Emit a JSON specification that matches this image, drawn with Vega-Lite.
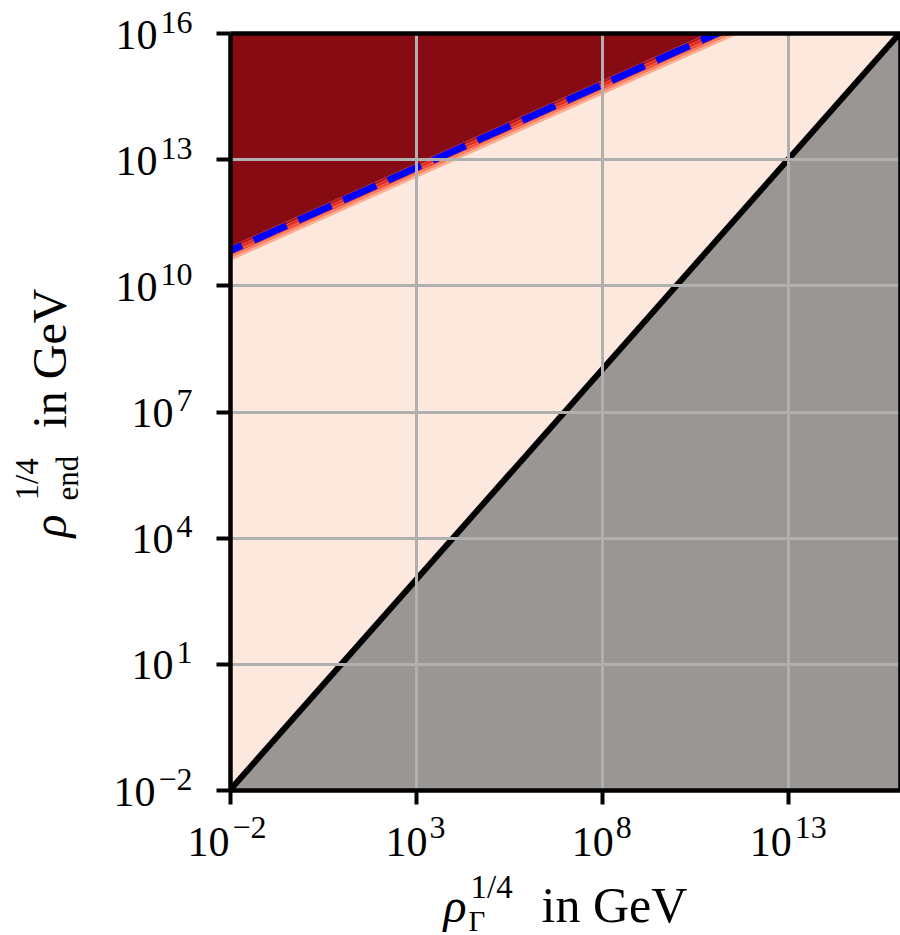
{
  "$schema": "https://vega.github.io/schema/vega-lite/v6.json",
  "width": 670,
  "height": 757,
  "autosize": "none",
  "padding": {"left": 230, "top": 33, "right": 0, "bottom": 145},
  "background": "white",
  "view": {"fill": "#fde8dd", "stroke": null},
  "config": {
    "font": "Liberation Serif",
    "view": {"fill": "#fde8dd", "stroke": null},
    "axis": {
      "labelFont": "Liberation Serif",
      "titleFont": "Liberation Serif",
      "labelColor": "black",
      "titleColor": "black",
      "titleFontWeight": "normal",
      "labelFlush": false,
      "labelOverlap": false,
      "labelBound": false
    }
  },
  "datasets": {
    "grey": [
      {"x": 0.01, "y": 0.01, "y0": 0.01},
      {"x": 1e16, "y": 1e16, "y0": 0.01}
    ],
    "dark": [
      {"x": 0.01, "lo": 8.318e10, "hi": 1e17},
      {"x": 1e12, "lo": 2.818e16, "hi": 1e17}
    ],
    "bands": [
      {"band": "b1", "x": 0.01, "lo": 7.079e10, "hi": 8.318e10},
      {"band": "b1", "x": 1e12, "lo": 2.399e16, "hi": 2.818e16},
      {"band": "b2", "x": 0.01, "lo": 5.888e10, "hi": 7.079e10},
      {"band": "b2", "x": 1e12, "lo": 1.995e16, "hi": 2.399e16},
      {"band": "b3", "x": 0.01, "lo": 5.012e10, "hi": 5.888e10},
      {"band": "b3", "x": 1e12, "lo": 1.698e16, "hi": 1.995e16},
      {"band": "b4", "x": 0.01, "lo": 4.365e10, "hi": 5.012e10},
      {"band": "b4", "x": 1e12, "lo": 1.479e16, "hi": 1.698e16},
      {"band": "b5", "x": 0.01, "lo": 3.802e10, "hi": 4.365e10},
      {"band": "b5", "x": 1e12, "lo": 1.288e16, "hi": 1.479e16}
    ],
    "blue": [
      {"x": 0.01, "y": 6.607e10},
      {"x": 1e12, "y": 2.239e16}
    ],
    "diag": [
      {"x": 0.01, "y": 0.01},
      {"x": 1e16, "y": 1e16}
    ]
  },
  "resolve": {
    "scale": {"x": "independent", "y": "independent"},
    "axis": {"x": "independent", "y": "independent"}
  },
  "layer": [
    {
      "data": {"name": "grey"},
      "mark": {"type": "area", "color": "#9a9694", "clip": true},
      "encoding": {
        "x": {
          "field": "x", "type": "quantitative",
          "scale": {"type": "log", "domain": [0.01, 1e16], "nice": false},
          "axis": {
            "orient": "bottom",
            "values": [0.01, 1000, 100000000, 10000000000000],
            "grid": true, "gridColor": "#b0b0b0", "gridWidth": 3,
            "domain": true, "domainColor": "black", "domainWidth": 4.5,
            "ticks": true, "tickColor": "black", "tickWidth": 4, "tickSize": 14,
            "labelExpr": "'10'", "labelFontSize": 42,
            "labelAlign": "center", "labelBaseline": "alphabetic", "labelPadding": 51,
            "labelOffset": {"condition": [{"test": "datum.value < 1", "value": -22}, {"test": "datum.value > 1e12", "value": -18}], "value": -10},
            "title": "in GeV", "titleFontSize": 50, "titleX": 311, "titleY": 131,
            "titleAlign": "left", "titleBaseline": "alphabetic", "titleAngle": 0,
            "zindex": 1
          }
        },
        "y": {
          "field": "y", "type": "quantitative",
          "scale": {"type": "log", "domain": [0.01, 1e16], "nice": false},
          "axis": {
            "orient": "left",
            "values": [0.01, 10, 10000, 10000000, 10000000000, 10000000000000, 10000000000000000],
            "grid": true, "gridColor": "#b0b0b0", "gridWidth": 3,
            "domain": true, "domainColor": "black", "domainWidth": 4.5,
            "ticks": true, "tickColor": "black", "tickWidth": 4, "tickSize": 14,
            "labelExpr": "'10'", "labelFontSize": 42,
            "labelAlign": "right", "labelBaseline": "middle", "labelOffset": 2,
            "labelPadding": {"condition": [{"test": "datum.value < 1", "value": 61}, {"test": "datum.value > 1e9", "value": 59}], "value": 43},
            "title": "in GeV", "titleFontSize": 48, "titleAngle": -90,
            "titleX": -165, "titleY": 395, "titleAlign": "left", "titleBaseline": "alphabetic",
            "zindex": 1
          }
        },
        "y2": {"field": "y0"}
      }
    },
    {
      "data": {"name": "dark"},
      "mark": {"type": "area", "color": "#860b13", "clip": true},
      "encoding": {
        "x": {
          "field": "x", "type": "quantitative",
          "scale": {"type": "log", "domain": [0.01, 1e16], "nice": false},
          "axis": {
            "orient": "bottom",
            "values": [0.01, 1000, 100000000, 10000000000000],
            "grid": false, "domain": false, "ticks": false,
            "labelExpr": "(datum.value < 1 ? '−' : '') + format(abs(round(log(datum.value) / LN10)), 'd')",
            "labelFontSize": 32, "labelAlign": "left", "labelBaseline": "alphabetic", "labelPadding": 47,
            "labelOffset": {"condition": [{"test": "datum.value < 1", "value": 2}, {"test": "datum.value > 1e12", "value": 6}], "value": 13},
            "title": "ρ", "titleFontSize": 48, "titleFontStyle": "italic", "titleX": 213, "titleY": 131,
            "titleAlign": "left", "titleBaseline": "alphabetic", "titleAngle": 0
          }
        },
        "y": {
          "field": "lo", "type": "quantitative", "stack": null,
          "scale": {"type": "log", "domain": [0.01, 1e16], "nice": false},
          "axis": {
            "orient": "left",
            "values": [0.01, 10, 10000, 10000000, 10000000000, 10000000000000, 10000000000000000],
            "grid": false, "domain": false, "ticks": false,
            "labelExpr": "(datum.value < 1 ? '−' : '') + format(abs(round(log(datum.value) / LN10)), 'd')",
            "labelFontSize": 32, "labelAlign": "right", "labelBaseline": "middle",
            "labelPadding": 38, "labelOffset": -11,
            "title": "ρ", "titleFontSize": 48, "titleFontStyle": "italic", "titleAngle": -90,
            "titleX": -165, "titleY": 504, "titleAlign": "left", "titleBaseline": "alphabetic"
          }
        },
        "y2": {"field": "hi"}
      }
    },
    {
      "data": {"name": "bands"},
      "mark": {"type": "area", "clip": true},
      "encoding": {
        "x": {
          "field": "x", "type": "quantitative",
          "scale": {"type": "log", "domain": [0.01, 1e16], "nice": false},
          "axis": {
            "orient": "bottom", "labels": false, "grid": false, "domain": false, "ticks": false,
            "title": "1/4", "titleFontSize": 33, "titleX": 240, "titleY": 107,
            "titleAlign": "left", "titleBaseline": "alphabetic", "titleAngle": 0
          }
        },
        "y": {
          "field": "lo", "type": "quantitative", "stack": null,
          "scale": {"type": "log", "domain": [0.01, 1e16], "nice": false},
          "axis": {
            "orient": "left", "labels": false, "grid": false, "domain": false, "ticks": false,
            "title": "1/4", "titleFontSize": 33, "titleAngle": -90,
            "titleX": -193, "titleY": 467, "titleAlign": "left", "titleBaseline": "alphabetic"
          }
        },
        "y2": {"field": "hi"},
        "color": {
          "field": "band", "type": "nominal", "legend": null,
          "scale": {"domain": ["b1", "b2", "b3", "b4", "b5"], "range": ["#bb1419", "#e0301e", "#f44d38", "#fb7d5d", "#fcab8f"]}
        }
      }
    },
    {
      "data": {"name": "blue"},
      "mark": {"type": "line", "color": "#0000ff", "strokeWidth": 7, "strokeDash": [36, 13], "strokeDashOffset": 23, "strokeCap": "butt", "clip": true},
      "encoding": {
        "x": {
          "field": "x", "type": "quantitative",
          "scale": {"type": "log", "domain": [0.01, 1e16], "nice": false},
          "axis": {
            "orient": "bottom", "labels": false, "grid": false, "domain": false, "ticks": false,
            "title": "Γ", "titleFontSize": 29, "titleX": 238, "titleY": 140,
            "titleAlign": "left", "titleBaseline": "alphabetic", "titleAngle": 0
          }
        },
        "y": {
          "field": "y", "type": "quantitative",
          "scale": {"type": "log", "domain": [0.01, 1e16], "nice": false},
          "axis": {
            "orient": "left", "labels": false, "grid": false, "domain": false, "ticks": false,
            "title": "end", "titleFontSize": 31, "titleAngle": -90,
            "titleX": -153, "titleY": 467, "titleAlign": "left", "titleBaseline": "alphabetic"
          }
        }
      }
    },
    {
      "data": {"name": "diag"},
      "mark": {"type": "line", "color": "black", "strokeWidth": 6, "clip": true},
      "encoding": {
        "x": {
          "field": "x", "type": "quantitative",
          "scale": {"type": "log", "domain": [0.01, 1e16], "nice": false},
          "axis": {
            "orient": "top", "labels": false, "grid": false, "ticks": false,
            "domain": true, "domainColor": "black", "domainWidth": 4.5,
            "title": null, "zindex": 1
          }
        },
        "y": {
          "field": "y", "type": "quantitative",
          "scale": {"type": "log", "domain": [0.01, 1e16], "nice": false},
          "axis": {
            "orient": "right", "labels": false, "grid": false, "ticks": false,
            "domain": true, "domainColor": "black", "domainWidth": 4.5,
            "title": null, "zindex": 1
          }
        }
      }
    }
  ]
}
